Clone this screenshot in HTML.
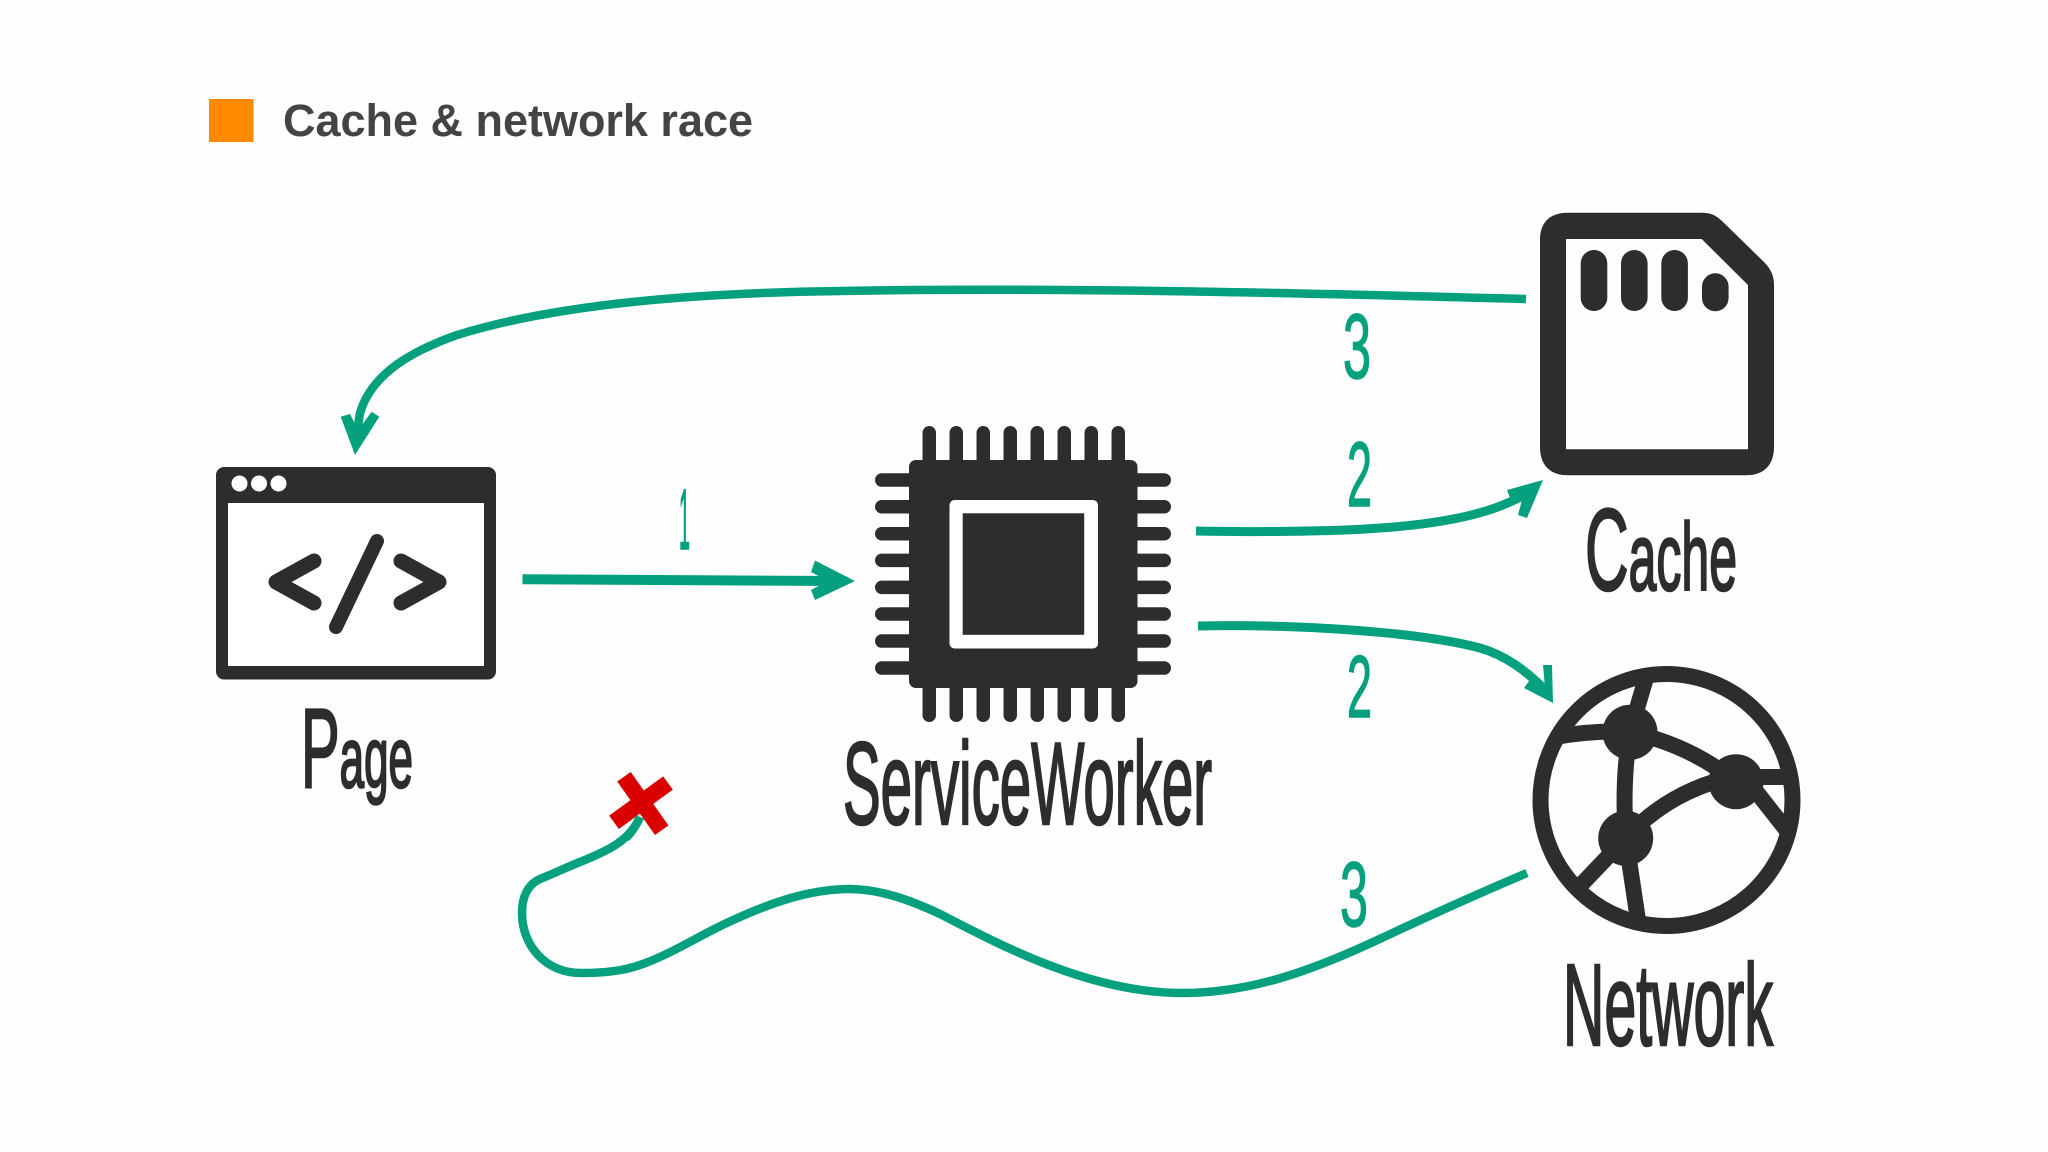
<!DOCTYPE html>
<html><head><meta charset="utf-8"><title>Cache &amp; network race</title>
<style>html,body{margin:0;padding:0;background:#fff}svg{display:block}</style></head>
<body>
<svg xmlns="http://www.w3.org/2000/svg" width="2048" height="1152" viewBox="0 0 2048 1152">
<rect width="2048" height="1152" fill="#fefefe"/>
<rect x="209" y="99" width="44.500" height="43" fill="#ff8a00"/>
<text x="283" y="136" font-family="'Liberation Sans',sans-serif" font-weight="700" font-size="45" fill="#444" textLength="470" lengthAdjust="spacingAndGlyphs">Cache &amp; network race</text>

<!-- Page -->
<rect x="216" y="467" width="280" height="212.500" rx="8" fill="#2d2d2f"/>
<rect x="228" y="503" width="256" height="163" fill="#fff"/>
<circle cx="239.500" cy="483.500" r="8" fill="#fff"/><circle cx="259" cy="483.500" r="8" fill="#fff"/><circle cx="278.500" cy="483.500" r="8" fill="#fff"/>
<g fill="none" stroke="#2d2d2f" stroke-width="15" stroke-linecap="round" stroke-linejoin="round">
<polyline points="314,561 276,582 314,603"/>
<line x1="377" y1="541" x2="336" y2="627" stroke-width="14"/>
<polyline points="401,561 439,582 401,603"/>
</g>

<!-- Chip -->
<g fill="#2d2d2f">
<rect x="922.500" y="426" width="13.500" height="296" rx="6.750"/><rect x="949.500" y="426" width="13.500" height="296" rx="6.750"/><rect x="976.500" y="426" width="13.500" height="296" rx="6.750"/><rect x="1003.500" y="426" width="13.500" height="296" rx="6.750"/><rect x="1030.500" y="426" width="13.500" height="296" rx="6.750"/><rect x="1057.500" y="426" width="13.500" height="296" rx="6.750"/><rect x="1084.500" y="426" width="13.500" height="296" rx="6.750"/><rect x="1111.500" y="426" width="13.500" height="296" rx="6.750"/>
<rect x="875" y="473.300" width="296" height="13.500" rx="6.750"/><rect x="875" y="500" width="296" height="13.500" rx="6.750"/><rect x="875" y="527" width="296" height="13.500" rx="6.750"/><rect x="875" y="553.600" width="296" height="13.500" rx="6.750"/><rect x="875" y="580.600" width="296" height="13.500" rx="6.750"/><rect x="875" y="607.300" width="296" height="13.500" rx="6.750"/><rect x="875" y="634.300" width="296" height="13.500" rx="6.750"/><rect x="875" y="661.300" width="296" height="13.500" rx="6.750"/>
<rect x="909" y="460" width="228.500" height="228" rx="7"/>
</g>
<rect x="949.500" y="500" width="148.500" height="148.500" rx="5" fill="#fff"/>
<rect x="962.700" y="513.300" width="121.500" height="121.500" fill="#2d2d2f"/>

<!-- Cache -->
<path fill-rule="evenodd" fill="#2d2d2f" d="M1568,212.700 H1702 C1710,212.700 1716,215 1722,221 L1764,262 C1771,269 1774,276 1774,285 V447 C1774,465 1764,475.300 1746,475.300 H1568 C1550,475.300 1540,465 1540,447 V240 C1540,222 1550,212.700 1568,212.700 Z M1566,239 V449.300 H1748 V285 L1701.700,239 Z"/>
<g fill="#2d2d2f">
<rect x="1580.700" y="250" width="26.600" height="61" rx="13.300"/>
<rect x="1621" y="250" width="26.600" height="61" rx="13.300"/>
<rect x="1661.300" y="250" width="26.600" height="61" rx="13.300"/>
<rect x="1702" y="273.300" width="26.600" height="38" rx="13.300"/>
</g>

<!-- Network -->
<g fill="none" stroke="#2d2d2f" stroke-width="16">
<circle cx="1666.500" cy="800" r="126"/>
<path d="M1646,678 L1630,732"/>
<path d="M1555,737 Q1595,730 1630,732"/>
<path d="M1630,732 Q1690,745 1736,782"/>
<path d="M1630,732 Q1622,780 1625.700,838"/>
<path d="M1625.700,838 Q1670,790 1736,776"/>
<path d="M1736,777 H1790"/>
<path d="M1755,790 L1788,832"/>
<path d="M1625.700,838 L1578,888"/>
<path d="M1625.700,838 L1638,920"/>
</g>
<g fill="#2d2d2f">
<circle cx="1630" cy="732.300" r="27.500"/>
<circle cx="1736" cy="781.700" r="27.500"/>
<circle cx="1625.700" cy="838.300" r="27.500"/>
</g>

<!-- Connectors -->
<g fill="none" stroke="#05a17e" stroke-width="8.500">
<path d="M1526,299 C1300,293 1050,287 840,291 C700,293 560,303 457,335 C415,350 372,372 360,413 C358,425 357,432 356,440"/>
<path d="M522.500,579.300 L835,581" stroke-width="10"/>
<path d="M1196,531 C1240,532 1330,532 1380,528 C1410,526 1440,522 1463,517 C1485,512 1505,506 1530,492" stroke-width="9"/>
<path d="M1198,626 C1300,624 1420,632 1480,648 C1505,655 1528,672 1545,690" stroke-width="9"/>
<path d="M640,817 C630,840 610,850 580,862 C565,868 555,873 540,879 C527,885 522,898 522,913 C522,945 545,973 581,973 C610,973 630,970 653,960 C680,949 700,935 731,921 C770,903 810,889 849,889 C880,889 910,900 940,914 C1000,945 1090,993 1182,993 C1250,993 1310,971 1371,943 C1420,920 1475,895 1527,873"/>
</g>
<g fill="#05a17e">
<polygon points="355,455 340.700,416.700 350,414 358,430 371.700,411.700 379.300,416.700"/>
<polygon points="855,581 815,560.500 811,572 828,581 811,590 815,600"/>
<polygon points="1543,480 1507,490 1510,498 1522,500 1518,515 1527,518"/>
<polygon points="1553,703 1552,665 1543,665 1545,688 1529,681 1524,688"/>
</g>
<g stroke="#da0000" stroke-width="16.500" fill="none">
<line x1="624" y1="776.700" x2="661.700" y2="830.300"/>
<line x1="668" y1="783" x2="614" y2="822.300"/>
</g>
<path d="M640,817 C636,826 632,832 626,838" fill="none" stroke="#05a17e" stroke-width="8.500"/>

<!-- Labels -->
<g font-family="'Liberation Sans',sans-serif" fill="#2d2d2f" stroke="#2d2d2f" stroke-width="2.500">
<text x="301" y="787" font-size="112" textLength="112" lengthAdjust="spacingAndGlyphs">P<tspan font-size="85">age</tspan></text>
<text x="843" y="824" font-size="117" textLength="369" lengthAdjust="spacingAndGlyphs">ServiceWorker</text>
<text x="1585" y="590" font-size="116" textLength="152" lengthAdjust="spacingAndGlyphs">C<tspan font-size="96">ache</tspan></text>
<text x="1563" y="1045" font-size="116" textLength="210" lengthAdjust="spacingAndGlyphs">Network</text>
</g>
<g font-family="'Liberation Sans',sans-serif" fill="#05a17e" stroke="#05a17e" stroke-width="1.500">
<text x="679" y="549" font-size="86" textLength="11" lengthAdjust="spacingAndGlyphs">1</text>
<text x="1343" y="378" font-size="92" textLength="28" lengthAdjust="spacingAndGlyphs">3</text>
<text x="1347" y="506" font-size="92" textLength="25" lengthAdjust="spacingAndGlyphs">2</text>
<text x="1347" y="717" font-size="88" textLength="25" lengthAdjust="spacingAndGlyphs">2</text>
<text x="1340" y="926" font-size="92" textLength="28" lengthAdjust="spacingAndGlyphs">3</text>
</g>
</svg>
</body></html>
